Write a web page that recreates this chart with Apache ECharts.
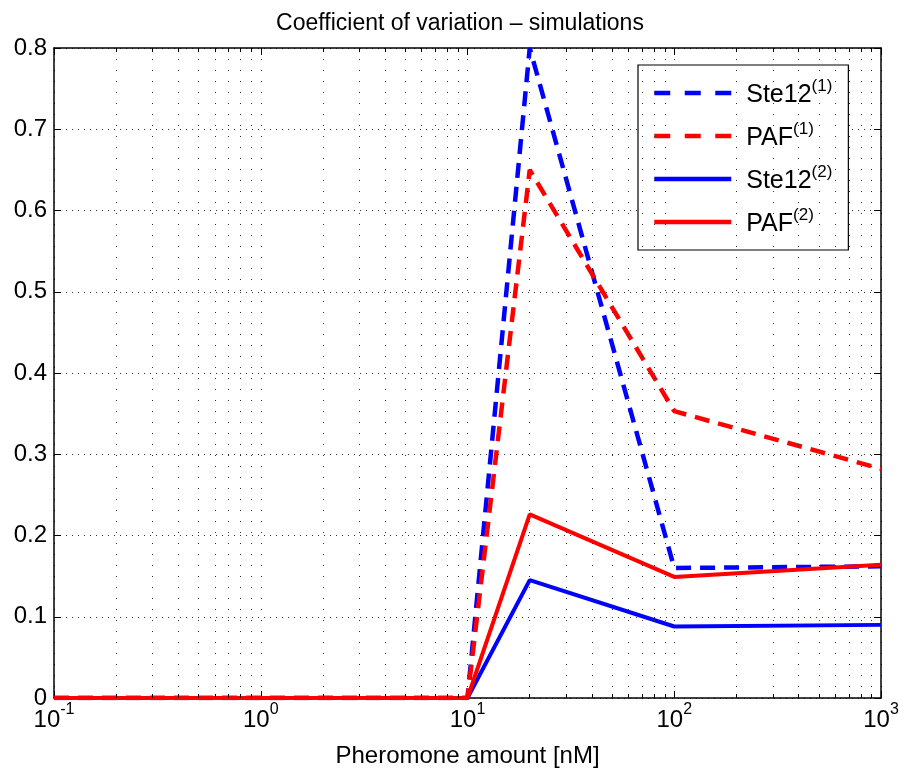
<!DOCTYPE html>
<html>
<head>
<meta charset="utf-8">
<script src="https://cdn.jsdelivr.net/npm/echarts@6/dist/echarts.min.js"></script>
<style>
html,body{margin:0;padding:0;background:#fff;}
#chart{width:905px;height:777px;}
</style>
</head>
<body>
<div id="chart"></div>
<script>
// ---- data ----
const xValues = [0.1, 1, 10, 20, 100, 1000];
const ste12_1 = [0, 0, 0, 0.80, 0.160, 0.162];
const paf_1   = [0, 0, 0, 0.650, 0.353, 0.282];
const ste12_2 = [0, 0, 0, 0.145, 0.088, 0.090];
const paf_2   = [0, 0, 0, 0.226, 0.149, 0.164];
const seriesNames = ['Ste12(1)', 'PAF(1)', 'Ste12(2)', 'PAF(2)'];
const yTicks = [0, 0.1, 0.2, 0.3, 0.4, 0.5, 0.6, 0.7, 0.8];
const xMajorTicks = [0.1, 1, 10, 100, 1000];
const xMinorTicks = [];
[0.1, 1, 10, 100].forEach(d => { for (let k = 2; k <= 9; k++) xMinorTicks.push(+(d * k).toPrecision(3)); });

const FONT = "'Liberation Sans', Arial, Helvetica, sans-serif";
const pair = arr => xValues.map((x, i) => [x, arr[i]]);

const yMin = 0, yMax = 0.8;
const minorTickLen = 0.005;

const minorGrid = xMinorTicks.map(v => ({ xAxis: v }));
const minorTickLines = [];
xMinorTicks.forEach(v => {
  minorTickLines.push([{ coord: [v, yMin] }, { coord: [v, yMin + minorTickLen] }]);
  minorTickLines.push([{ coord: [v, yMax] }, { coord: [v, yMax - minorTickLen] }]);
});

const chart = echarts.init(document.getElementById('chart'), null, { renderer: 'canvas' });

const legendName = n => {
  const m = n.match(/^(.*)\((\d)\)$/);
  return '{a|' + m[1] + '}{s|(' + m[2] + ')}';
};

const DASH = [15, 9];
const LEGEND_DASH = [16, 14.5];

const axisCommon = {
  type: 'log', logBase: 10, min: 0.1, max: 1000,
  axisLine: { show: true, onZero: false, lineStyle: { color: '#000', width: 1.5 } },
  axisTick: { show: true, inside: true, length: 7, lineStyle: { color: '#000', width: 1 } },
  splitLine: { show: false },
  minorTick: { show: false }
};

const option = {
  backgroundColor: '#fff',
  animation: false,
  title: {
    text: 'Coefficient of variation \u2013 simulations',
    left: 455, top: 7, textAlign: 'center',
    textStyle: { fontFamily: FONT, fontSize: 23, fontWeight: 'normal', color: '#000' }
  },
  grid: { left: 54, right: 24, top: 48, bottom: 79, show: false },
  legend: {
    orient: 'vertical',
    left: 638, top: 65,
    backgroundColor: '#fff', borderColor: '#000', borderWidth: 1.2,
    padding: [13, 16, 13, 14],
    itemWidth: 77, itemHeight: 14, itemGap: 13,
    data: [
      { name: seriesNames[0], lineStyle: { type: LEGEND_DASH } },
      { name: seriesNames[1], lineStyle: { type: LEGEND_DASH } },
      { name: seriesNames[2] },
      { name: seriesNames[3] }
    ],
    formatter: legendName,
    itemStyle: { color: 'transparent', borderColor: 'transparent', borderWidth: 0, opacity: 0 },
    lineStyle: { width: 4.5 },
    textStyle: {
      fontFamily: FONT, color: '#000', padding: [0, 0, 0, 10],
      rich: {
        a: { fontFamily: FONT, fontSize: 25, color: '#000', verticalAlign: 'bottom', lineHeight: 30 },
        s: { fontFamily: FONT, fontSize: 17, color: '#000', verticalAlign: 'top', lineHeight: 30 }
      }
    }
  },
  xAxis: [
    Object.assign({}, axisCommon, {
      position: 'bottom',
      name: 'Pheromone amount [nM]', nameLocation: 'middle', nameGap: 46,
      nameTextStyle: { fontFamily: FONT, fontSize: 24, color: '#000' },
      axisLabel: {
        margin: 4,
        formatter: v => '{b|10}{s|' + Math.round(Math.log10(v)) + '}',
        rich: {
          b: { fontFamily: FONT, fontSize: 24, color: '#000', verticalAlign: 'bottom', lineHeight: 30 },
          s: { fontFamily: FONT, fontSize: 16, color: '#000', verticalAlign: 'top', lineHeight: 30 }
        }
      },
      splitLine: { show: true, lineStyle: { color: '#333', type: [1, 10], width: 1 } }
    }),
    Object.assign({}, axisCommon, {
      position: 'top',
      axisLabel: { show: false }
    })
  ],
  yAxis: [
    {
      type: 'value', min: 0, max: 0.8, interval: 0.1, position: 'left',
      axisLine: { show: true, onZero: false, lineStyle: { color: '#000', width: 1.5 } },
      axisTick: { show: true, inside: true, length: 7, lineStyle: { color: '#000' } },
      axisLabel: {
        margin: 7, fontFamily: FONT, fontSize: 24, color: '#000',
        formatter: v => (Math.abs(v) < 1e-9 ? '0' : v.toFixed(1))
      },
      splitLine: { show: true, lineStyle: { color: '#333', type: [1, 5], width: 1 } }
    },
    {
      type: 'value', min: 0, max: 0.8, interval: 0.1, position: 'right',
      axisLine: { show: true, onZero: false, lineStyle: { color: '#000', width: 1.5 } },
      axisTick: { show: true, inside: true, length: 7, lineStyle: { color: '#000' } },
      axisLabel: { show: false },
      splitLine: { show: false }
    }
  ],
  series: [
    {
      name: 'grid-minor', type: 'line', data: [], silent: true,
      markLine: {
        silent: true, symbol: 'none', label: { show: false },
        lineStyle: { color: '#333', type: [1, 10], width: 1 },
        data: minorGrid
      }
    },
    {
      name: 'tick-minor', type: 'line', data: [], silent: true,
      markLine: {
        silent: true, symbol: 'none', label: { show: false },
        lineStyle: { color: '#000', type: 'solid', width: 1 },
        data: minorTickLines
      }
    },
    {
      name: seriesNames[0], type: 'line', data: pair(ste12_1), symbol: 'none',
      color: '#0000ff', lineStyle: { color: '#0000ff', width: 4.5, type: DASH }
    },
    {
      name: seriesNames[1], type: 'line', data: pair(paf_1), symbol: 'none',
      color: '#ff0000', lineStyle: { color: '#ff0000', width: 4.5, type: DASH }
    },
    {
      name: seriesNames[2], type: 'line', data: pair(ste12_2), symbol: 'none',
      color: '#0000ff', lineStyle: { color: '#0000ff', width: 4 }
    },
    {
      name: seriesNames[3], type: 'line', data: pair(paf_2), symbol: 'none',
      color: '#ff0000', lineStyle: { color: '#ff0000', width: 4 }
    }
  ]
};
chart.setOption(option);
</script>
</body>
</html>
